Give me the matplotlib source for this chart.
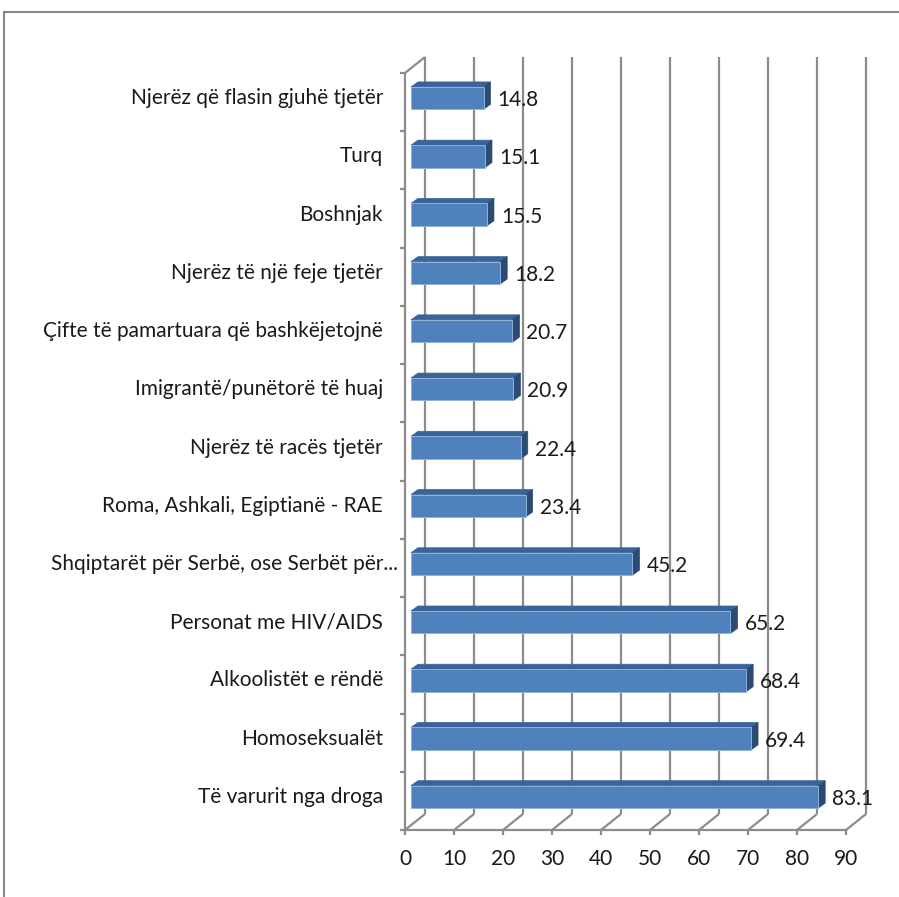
import numpy as np
import matplotlib.pyplot as plt
from matplotlib.patches import Polygon, Rectangle

# data, top to bottom as shown in the chart
categories = [
    "Njerëz që flasin gjuhë tjetër",
    "Turq",
    "Boshnjak",
    "Njerëz të një feje tjetër",
    "Çifte të pamartuara që bashkëjetojnë",
    "Imigrantë/punëtorë të huaj",
    "Njerëz të racës tjetër",
    "Roma, Ashkali, Egiptianë - RAE",
    "Shqiptarët për Serbë, ose Serbët për...",
    "Personat me HIV/AIDS",
    "Alkoolistët e rëndë",
    "Homoseksualët",
    "Të varurit nga droga",
]
values = [14.8, 15.1, 15.5, 18.2, 20.7, 20.9, 22.4, 23.4, 45.2, 65.2, 68.4, 69.4, 83.1]
ticks = list(range(0, 100, 10))

plt.rcParams['font.family'] = ['Lato', 'DejaVu Sans']
FS = 15
TXT = '#1a1a1a'
GRID = '#8c8c8c'
FRONT, TOP, SIDE = '#4f81bd', '#3a6497', '#2c4b73'

W, H = 899, 897
fig = plt.figure(figsize=(W / 100, H / 100), dpi=100)

# outer chart border (only left and top edges are inside the picture)
fig.add_artist(plt.Line2D([4 / W, 4 / W], [0, 1 - 12 / H], color='#888888', lw=1.5))
fig.add_artist(plt.Line2D([4 / W, 1], [1 - 12 / H, 1 - 12 / H], color='#888888', lw=1.5))

# front plane of the 3d plot area, in pixels
x0, x1, ytop, ybot = 405, 846, 73, 830
ax = fig.add_axes([x0 / W, (H - ybot) / H, (x1 - x0) / W, (ybot - ytop) / H])
n = len(categories)
ax.set_xlim(0, 90)
ax.set_ylim(-0.5, n - 0.5)
ax.axis('off')

px = (x1 - x0) / 90.0
py = (ybot - ytop) / float(n)


def off(dx, dy):
    # pixel offset -> data units
    return dx / px, dy / py


gx, gy = off(20, 16)
g = dict(color=GRID, lw=1.6, clip_on=False, solid_capstyle='butt')

# back wall + floor
for t in ticks:
    ax.plot([t + gx, t + gx], [-0.5 + gy, n - 0.5 + gy], **g)
    ax.plot([t, t + gx], [-0.5, -0.5 + gy], **g)
    ax.plot([t, t], [-0.5, -0.5 - off(0, 5)[1]], **g)
    ax.text(t, -0.5 - off(0, 29)[1], str(t), ha='center', va='center',
            fontsize=FS, color=TXT)
ax.plot([0, 90], [-0.5, -0.5], **g)

# left wall
ax.plot([0, 0], [-0.5, n - 0.5], **g)
ax.plot([0, gx], [n - 0.5, n - 0.5 + gy], **g)
for k in range(n + 1):
    ax.plot([0, -off(5, 0)[0]], [k - 0.5, k - 0.5], **g)

# bars
bx, by = off(6, 4)
dx, dy = off(7, 5)
hh = 11.2 / py
for i, (c, v) in enumerate(zip(categories, values)):
    yc = n - 1 - i
    y = yc + by
    xl, xr = bx, v + bx
    yb, yt = y - hh, y + hh
    ax.add_patch(Polygon([(xl, yt), (xr, yt), (xr + dx, yt + dy), (xl + dx, yt + dy)],
                         closed=True, fc=TOP, ec=TOP, lw=0.5, zorder=3, clip_on=False))
    ax.add_patch(Polygon([(xr, yb), (xr, yt), (xr + dx, yt + dy), (xr + dx, yb + dy)],
                         closed=True, fc=SIDE, ec=SIDE, lw=0.5, zorder=3, clip_on=False))
    ax.add_patch(Rectangle((xl, yb), v, yt - yb, fc=FRONT, ec='#8fb2dc', lw=0.7,
                           zorder=4, clip_on=False))
    ax.text(v + bx + off(14, 0)[0], y - off(0, 2)[1], f"{v:.1f}", ha='left',
            va='center', fontsize=FS, color=TXT, zorder=5)
    # the truncated label fills its whole box, so it reaches closer to the axis
    gap = 7 if c.endswith('...') else 22
    ax.text(-off(gap, 0)[0], yc + off(0, 4)[1], c, ha='right', va='center',
            fontsize=FS, color=TXT)

fig.savefig('out.png', dpi=100)
